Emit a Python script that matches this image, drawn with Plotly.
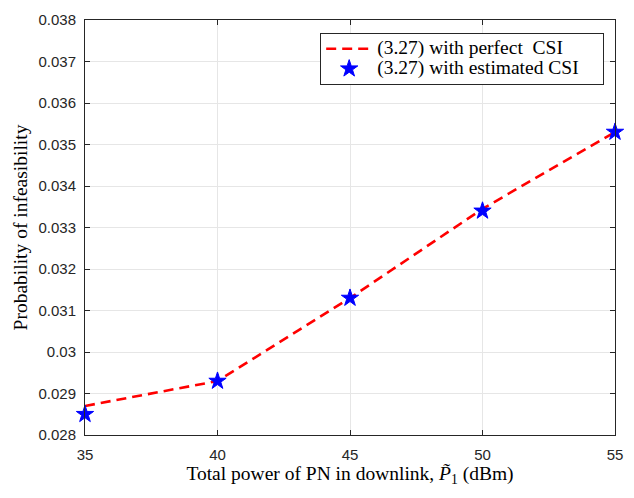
import plotly.graph_objects as go

# Total power of PN in downlink (dBm)
power_dbm = [35, 40, 45, 50, 55]
# Probability of infeasibility from (3.27)
prob_perfect_csi = [0.0287, 0.0293, 0.0313, 0.03345, 0.0353]
prob_estimated_csi = [0.0285, 0.0293, 0.0313, 0.0334, 0.0353]

x_ticks = [35, 40, 45, 50, 55]
y_ticks = [0.028, 0.029, 0.030, 0.031, 0.032, 0.033, 0.034, 0.035, 0.036, 0.037, 0.038]
y_tick_text = ["0.028", "0.029", "0.03", "0.031", "0.032", "0.033", "0.034",
               "0.035", "0.036", "0.037", "0.038"]

serif = "Liberation Serif, Times New Roman, serif"
sans = "Liberation Sans, Arial, Helvetica, sans-serif"
axis_col = "#262626"


def legend_label(text):
    # larger glyphs inside a compact legend row, with some right padding
    return '<span style="font-size:19.5px">' + text + "\u00a0\u00a0\u00a0\u00a0</span>"


fig = go.Figure()
fig.add_trace(go.Scatter(
    x=power_dbm, y=prob_perfect_csi, mode="lines",
    name=legend_label("(3.27) with perfect\u00a0 CSI"),
    line=dict(color="#ff0000", width=2.6, dash="10px,6px"),
))
fig.add_trace(go.Scatter(
    x=power_dbm, y=prob_estimated_csi, mode="markers",
    name=legend_label("(3.27) with estimated CSI"),
    marker=dict(symbol="star", size=13, color="#0000ff",
                line=dict(color="#0000ff", width=1)),
    cliponaxis=False,
))

axis_common = dict(
    showline=True, linecolor=axis_col, linewidth=1, mirror="ticks",
    ticks="inside", ticklen=5, tickcolor=axis_col,
    showgrid=True, gridcolor="#e6e6e6", gridwidth=1, zeroline=False,
    tickfont=dict(family=sans, size=15, color=axis_col),
)

fig.update_xaxes(
    range=[35, 55], tickvals=x_ticks, ticklabelstandoff=6,
    title=dict(text="Total power of PN in downlink, <i>P\u0303</i><sub>1</sub> (dBm)",
               font=dict(family=serif, size=19.5, color="#000000"), standoff=1),
    **axis_common,
)
fig.update_yaxes(
    range=[0.028, 0.038], tickvals=y_ticks, ticktext=y_tick_text, ticklabelstandoff=5,
    title=dict(text="Probability of infeasibility",
               font=dict(family=serif, size=19.5, color="#000000"), standoff=5),
    **axis_common,
)

fig.update_layout(
    width=634, height=498,
    margin=dict(l=85, r=11, t=11, b=63),
    plot_bgcolor="#ffffff", paper_bgcolor="#ffffff",
    showlegend=True,
    legend=dict(
        x=0.9796, y=0.969, xanchor="right", yanchor="top",
        bgcolor="#ffffff", bordercolor=axis_col, borderwidth=1,
        font=dict(family=serif, size=13, color="#000000"),
        itemwidth=46, tracegroupgap=0,
    ),
)

fig.write_html("out.html")
